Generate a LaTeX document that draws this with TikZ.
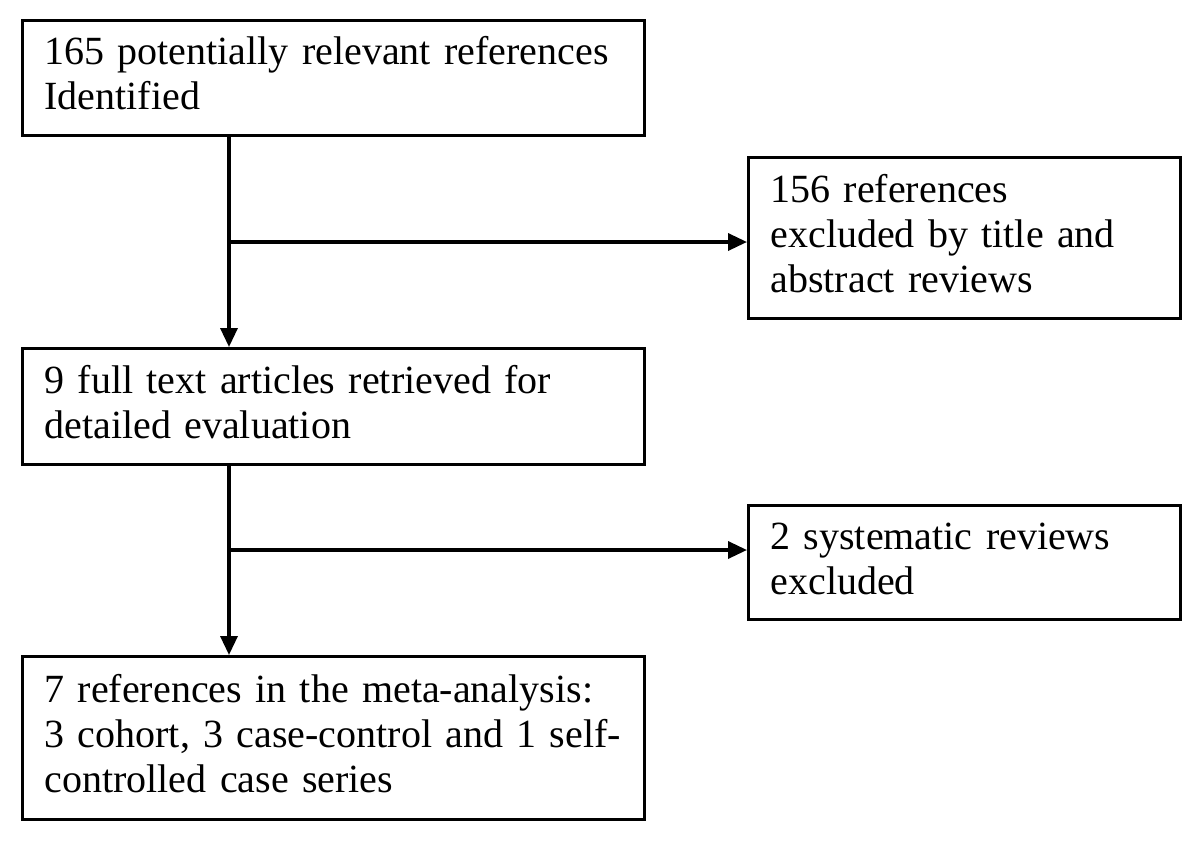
\documentclass[tikz,border=0pt]{standalone}
\usepackage{fontspec}
\setmainfont{Liberation Serif}
\usetikzlibrary{arrows.meta}
\begin{document}
\begin{tikzpicture}[x=0.5pt,y=-0.5pt,
  box/.style={draw=black, line width=1.5pt, anchor=north west, align=left,
    inner xsep=11pt, inner ysep=6pt, fill=white,
    font=\fontsize{20}{22.5}\selectfont},
  conn/.style={draw=black, line width=1.7pt},
  arr/.style={conn, -{Triangle[length=9.5pt,width=8.5pt]}}]
\useasboundingbox (0,0) rectangle (1200,842);
\node[box, text width=289pt, minimum height=57.5pt] (box1) at (21,19)
  {\strut 165 potentially relevant references\\ \strut Identified};
\node[box, text width=194pt, minimum height=80.5pt] (box2) at (747,156)
  {\strut 156 references\\ \strut excluded by title and\\ \strut abstract reviews};
\node[box, text width=289pt, minimum height=58pt] (box3) at (21,347)
  {\strut 9 full text articles retrieved for\\ \strut detailed evaluation};
\node[box, text width=194pt, minimum height=56.5pt] (box4) at (747,504)
  {\strut 2 systematic reviews\\ \strut excluded};
\node[box, text width=289pt, minimum height=81.5pt] (box5) at (21,655)
  {\strut 7 references in the meta-analysis:\\ \strut 3 cohort, 3 case-control and 1 self-\\ \strut controlled case series};
\coordinate (x1) at (229,0);
\coordinate (j1) at (229,242);
\coordinate (j2) at (229,550);
\draw[arr] (box1.south -| x1) -- (box3.north -| x1);
\draw[arr] (j1) -- (box2.west |- j1);
\draw[arr] (box3.south -| x1) -- (box5.north -| x1);
\draw[arr] (j2) -- (box4.west |- j2);
\end{tikzpicture}
\end{document}
